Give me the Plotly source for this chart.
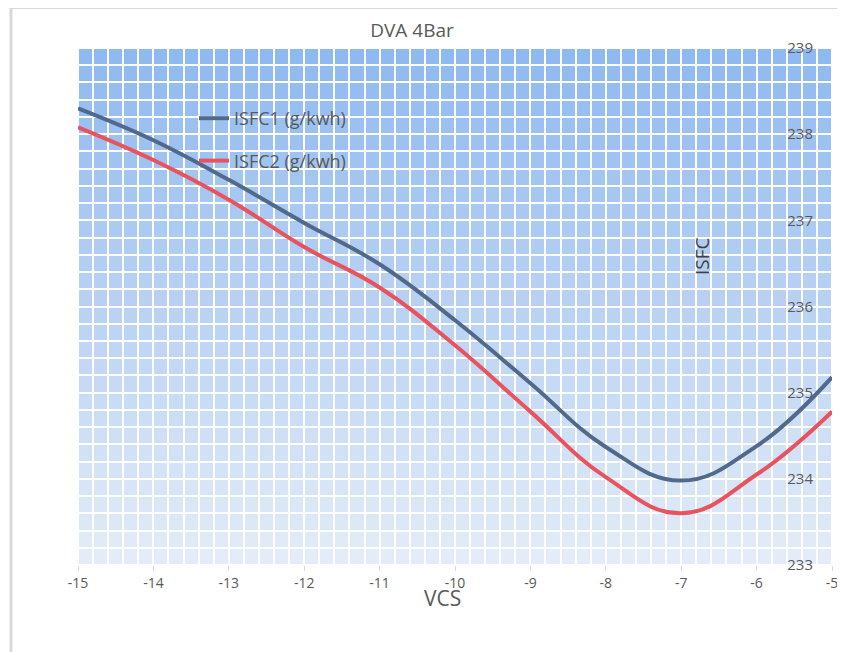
import numpy as np
import plotly.graph_objects as go

# ---- data ----
vcs = [-15, -14, -13, -12, -11, -10, -9, -8, -7, -6, -5]
isfc1 = [238.30, 237.93, 237.47, 236.97, 236.49, 235.84, 235.11, 234.37, 233.98, 234.38, 235.18]
isfc2 = [238.08, 237.70, 237.24, 236.69, 236.22, 235.55, 234.78, 234.02, 233.60, 234.05, 234.78]
series_names = ["ISFC1 (g/kwh)", "ISFC2 (g/kwh)"]
x_ticks = [-15, -14, -13, -12, -11, -10, -9, -8, -7, -6, -5]
x_tick_labels = [str(v) for v in x_ticks]
y_ticks = [233, 234, 235, 236, 237, 238, 239]

# page has an 8px body margin; work in figure pixels = page pixels - 8
OFF = 8
W, H = 837, 644
L, T = 78 - OFF, 48 - OFF
R = W - (832 - OFF)
B = H - (565 - OFF)
pw, ph = W - L - R, H - T - B

def px_x(p):  # page px -> paper
    return (p - OFF - L) / pw

def px_y(p):
    return 1 - (p - OFF - T) / ph

# gradient background with white grid (heatmap gaps)
gx = np.arange(-15 + 0.1, -5, 0.2)
gy = np.arange(233 + 0.1, 239, 0.2)
gz = np.tile(gy.reshape(-1, 1), (1, len(gx)))

fig = go.Figure()
fig.add_trace(go.Heatmap(
    x=gx, y=gy, z=gz, xgap=2, ygap=2,
    colorscale=[[0, "#e3ecf8"], [0.5, "#b9d2f3"], [1, "#8fbaf0"]],
    showscale=False, hoverinfo="skip", showlegend=False,
))

colors = ["#50698c", "#e8535e"]
for i, (name, ys) in enumerate(zip(series_names, [isfc1, isfc2])):
    fig.add_trace(go.Scatter(
        x=vcs, y=ys, mode="lines", name=name,
        line=dict(color=colors[i], width=4, shape="spline", smoothing=1.2),
        legendgroup=f"g{i}",
    ))

fig.update_layout(
    width=W, height=H,
    margin=dict(l=L, r=R, t=T, b=B, autoexpand=False),
    paper_bgcolor="white", plot_bgcolor="white",
    font=dict(family="Open Sans, Liberation Sans, sans-serif", color="#595959", size=13),
    title=dict(text="DVA 4Bar", x=(412 - OFF) / W, y=1 - (30 - OFF) / H,
               xanchor="center", yanchor="middle",
               font=dict(size=19, color="#595959")),
    legend=dict(x=px_x(194), y=px_y(100), xanchor="left", yanchor="top",
                bgcolor="rgba(0,0,0,0)", font=dict(size=18, color="#595959"),
                traceorder="grouped", tracegroupgap=16),
    xaxis=dict(range=[-15, -5], tickvals=x_ticks, ticktext=x_tick_labels,
               showgrid=False, zeroline=False,
               ticks="outside", ticklen=5, tickcolor="#d9d9d9", showline=False,
               tickfont=dict(size=14, color="#595959")),
    yaxis=dict(range=[233, 239], tickvals=y_ticks, side="right", showgrid=False, zeroline=False,
               ticklabelposition="inside", ticklabeloverflow="allow", ticklabelstandoff=16,
               ticks="", showline=False, tickfont=dict(size=15, color="#595959")),
    annotations=[
        dict(text="VCS", xref="paper", yref="paper", x=px_x(442), y=px_y(598),
             showarrow=False, font=dict(size=21, color="#595959"),
             xanchor="center", yanchor="middle"),
        dict(text="ISFC", xref="paper", yref="paper", x=px_x(702), y=px_y(256),
             showarrow=False, textangle=-90, font=dict(size=19, color="#404040"),
             xanchor="center", yanchor="middle"),
    ],
    shapes=[
        dict(type="line", xref="paper", yref="paper", x0=px_x(10), x1=px_x(840), y0=px_y(8), y1=px_y(8),
             line=dict(color="#d9d9d9", width=2)),
        dict(type="line", xref="paper", yref="paper", x0=px_x(11), x1=px_x(11), y0=px_y(8), y1=px_y(660),
             line=dict(color="#d9d9d9", width=3)),
    ],
)

fig.write_html("out.html")
